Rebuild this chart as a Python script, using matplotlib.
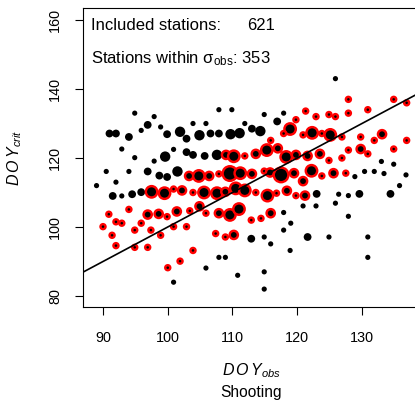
import matplotlib
matplotlib.use("Agg")
import matplotlib.pyplot as plt
import numpy as np

plt.rcParams['font.family'] = ['Liberation Sans', 'DejaVu Sans']
plt.rcParams['mathtext.fontset'] = 'custom'
plt.rcParams['mathtext.rm'] = 'Liberation Sans'
plt.rcParams['mathtext.it'] = 'Liberation Sans:italic'

# stations outside sigma_obs: DOY_obs, DOY_crit, number of stations at that spot
out_x = [94.9, 97.9, 107.9, 109.9, 114.9, 117.9, 96.9, 95.9, 98.9, 103.9, 105.9, 111.9, 116.9,
         91.0, 92.0, 94.0, 99.9, 101.9, 102.9, 104.9, 106.6, 107.9, 109.7, 111.1, 113.0, 114.3,
         125.9, 92.9, 94.9, 97.9, 99.6, 100.9, 102.9, 103.9, 105.7, 107.6,
         89.0, 90.5, 92.0, 94.0, 96.9, 98.7, 99.9, 101.5, 91.5, 92.9, 94.5, 95.9,
         133.0, 134.9, 128.9, 130.4, 131.9, 133.4, 136.8, 135.8, 123.0, 126.4, 127.9, 129.6, 134.4,
         125.9, 120.9, 122.9, 117.9, 119.0, 117.9, 127.9, 112.9, 114.9, 115.9, 121.6, 124.9, 130.9,
         107.9, 108.9, 118.9, 130.9, 105.9, 100.9, 110.8, 114.9, 114.9]
out_y = [133.0, 132.0, 134.0, 134.0, 132.6, 133.0, 129.6, 128.0, 129.0, 130.0, 130.0, 130.0, 130.6,
         127.1, 127.1, 126.1, 126.9, 127.6, 125.6, 126.6, 127.1, 127.1, 126.9, 127.2, 128.5, 127.8,
         143.0, 122.6, 120.1, 119.1, 120.4, 122.5, 121.7, 120.9, 120.6, 120.9,
         112.0, 116.1, 113.0, 116.1, 116.1, 114.9, 114.5, 116.1, 109.0, 109.0, 109.5, 110.1,
         119.0, 118.2, 114.6, 116.1, 116.1, 115.5, 115.1, 112.0, 109.6, 109.5, 109.1, 109.6, 109.6,
         106.9, 106.1, 106.1, 104.2, 101.1, 99.1, 103.1, 96.6, 97.1, 95.1, 97.1, 97.1, 97.1,
         91.2, 91.2, 93.2, 91.2, 88.1, 84.0, 86.0, 87.0, 82.0]
out_n = [1, 1, 1, 1, 1, 1, 2, 1, 1, 1, 1, 1, 2,
         2, 2, 2, 2, 3, 2, 3, 2, 2, 3, 3, 2, 3,
         1, 1, 1, 1, 3, 1, 2, 2, 2, 3,
         1, 1, 1, 1, 2, 2, 2, 3, 2, 1, 2, 2,
         1, 1, 1, 1, 1, 1, 1, 1, 2, 1, 1, 2, 2,
         1, 1, 1, 1, 1, 1, 1, 2, 1, 1, 2, 1, 1,
         1, 1, 1, 1, 1, 1, 1, 1, 1]

# stations within sigma_obs
in_x = [127.9, 134.9, 136.9, 121.3, 119.8, 122.9, 124.9, 125.9, 127.9, 130.9,
        118.9, 117.9, 120.9, 122.3, 123.8, 125.1, 126.9, 129.8, 133.1, 131.9, 136.9, 115.9,
        109.0, 110.2, 111.9, 113.6, 115.3, 117.0, 118.3, 119.8, 121.6, 123.5, 124.9, 126.9,
        127.9, 129.8, 130.9, 134.9,
        103.3, 104.8, 106.4, 107.9, 109.6, 111.2, 113.0, 114.9, 115.8, 117.5, 119.5, 120.9,
        122.2, 123.8, 125.6, 127.5,
        97.5, 99.5, 100.9, 102.2, 103.9, 105.6, 107.6, 108.9, 110.5, 111.9, 113.6, 115.4,
        116.8, 118.4, 119.8, 121.2,
        90.9, 90.0, 92.0, 92.9, 94.0, 94.9, 95.9, 96.9, 97.4, 98.6, 99.9, 101.4, 103.4, 104.9,
        102.9, 100.9, 105.9, 107.9, 109.6, 111.0, 112.9, 114.4, 115.9,
        91.4, 92.0, 94.9, 96.9, 98.9, 107.4, 108.9, 110.2, 103.9, 101.9, 100.0]
in_y = [137.0, 137.0, 136.0, 133.6, 131.1, 132.0, 132.6, 132.0, 133.0, 134.0,
        128.4, 127.1, 126.7, 127.3, 127.1, 126.7, 126.1, 126.1, 126.9, 125.1, 125.1, 125.1,
        120.9, 120.5, 120.6, 121.2, 122.3, 122.8, 120.3, 120.9, 120.6, 121.2, 119.3, 120.0,
        122.3, 122.6, 121.2, 122.6,
        114.8, 114.8, 114.8, 115.4, 115.5, 115.6, 115.4, 116.2, 115.8, 115.1, 115.6, 113.3,
        116.3, 114.8, 115.6, 115.6,
        110.2, 109.8, 111.0, 110.6, 110.0, 110.0, 109.8, 110.2, 111.2, 110.6, 110.0, 109.1,
        109.8, 110.5, 109.1, 109.1,
        103.7, 100.1, 101.5, 101.1, 105.1, 99.1, 101.1, 103.6, 99.1, 103.8, 103.0, 104.5, 104.7, 106.0,
        100.1, 100.1, 104.0, 104.0, 103.5, 105.2, 102.0, 102.5, 104.0,
        97.6, 94.6, 94.1, 94.1, 97.6, 98.1, 97.1, 97.7, 93.2, 90.1, 88.2]
in_n = [1, 1, 1, 1, 1, 1, 1, 1, 1, 1,
        3, 1, 1, 3, 1, 3, 1, 1, 2, 1, 1, 1,
        2, 3, 1, 2, 3, 2, 3, 2, 2, 2, 1, 1,
        1, 2, 1, 1,
        2, 3, 2, 1, 4, 3, 2, 1, 2, 4, 2, 2,
        3, 1, 2, 1,
        3, 3, 1, 2, 1, 3, 3, 2, 3, 3, 1, 3,
        1, 2, 1, 2,
        1, 1, 1, 1, 1, 1, 1, 2, 1, 2, 1, 2, 1, 2,
        1, 1, 1, 2, 3, 3, 1, 1, 2,
        1, 1, 1, 1, 1, 1, 1, 2, 1, 1, 1]

n_total = 621
n_within = 353

x_ticks = [90, 100, 110, 120, 130]
y_ticks = [80, 100, 120, 140, 160]

W, H = 415, 400
fig = plt.figure(figsize=(W / 100, H / 100), dpi=100)
ax = fig.add_axes([83 / W, (H - 307) / H, 1 - 83 / W, (307 - 8) / H])


def msize(n, base=5.0, step=3.2):
    # marker diameter in points from station count
    d_px = base + step * (np.asarray(n) - 1)
    return (d_px * 0.72) ** 2


ax.scatter(out_x, out_y, s=msize(out_n, 5.2, 2.6), c='black', linewidths=0, zorder=2)
ax.scatter(in_x, in_y, s=msize(in_n), c='black', edgecolors='red',
           linewidths=1.75, zorder=3)

# 1:1 line
ax.axline((100, 100), slope=1, color='black', lw=1.2, zorder=4)

ax.set_xlim(86.91, 138.19)
ax.set_ylim(76.81, 163.48)
ax.set_xticks(x_ticks)
ax.set_yticks(y_ticks)
ax.set_yticklabels([str(v) for v in y_ticks], rotation=90, va='center')
ax.tick_params(axis='both', length=6, width=0.8, labelsize=10.4, colors='black')
ax.tick_params(axis='x', pad=11)
ax.tick_params(axis='y', pad=9)
for side in ['left', 'bottom', 'top']:
    ax.spines[side].set_linewidth(0.8)
ax.spines['right'].set_visible(False)

fig.text(91 / W, 1 - 30 / H, 'Included stations:', fontsize=12, va='baseline')
fig.text(247 / W, 1 - 30 / H, str(n_total), fontsize=12, va='baseline')
fig.text(91 / W, 1 - 63 / H, r'Stations within $\mathrm{\sigma}_{\mathrm{obs}}$: ' + str(n_within),
         fontsize=12, va='baseline')

fig.text(15 / W, 1 - 158 / H, r'$D\,O\,Y_{crit}$', fontsize=11.5, rotation=90,
         ha='center', va='center')
fig.text(251 / W, 1 - 371 / H, r'$D\,O\,Y_{obs}$', fontsize=11.5, ha='center', va='center')
fig.text(251 / W, 1 - 393 / H, 'Shooting', fontsize=11.2, ha='center', va='center')

fig.savefig('out.png', dpi=100)
